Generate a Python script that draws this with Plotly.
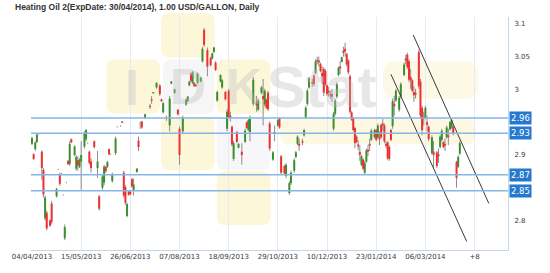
import plotly.graph_objects as go

# ---------------- data ----------------
title_text = "Heating Oil 2(ExpDate: 30/04/2014), 1.00 USD/GALLON, Daily"
tick_days = [0, 30, 60, 90, 120, 150, 180, 210, 240, 270]
tick_labels = ["04/04/2013", "15/05/2013", "26/06/2013", "07/08/2013", "18/09/2013",
               "29/10/2013", "10/12/2013", "23/01/2014", "06/03/2014", "+8"]
price_ticks = [2.8, 2.9, 3.0, 3.05, 3.1]
price_tick_labels = ["2.8", "2.9", "3", "3.05", "3.1"]
levels = [2.9565, 2.933, 2.870, 2.8455]
level_labels = ["2.96", "2.93", "2.87", "2.85"]
channel_upper_days = [232.6, 278.7]
channel_upper_vals = [3.083, 2.826]
channel_lower_days = [219.0, 265.2]
channel_lower_vals = [3.023, 2.768]

day = [0, 1, 2, 3, 4, 6, 7, 8, 9, 11,
       12, 15, 16, 17, 18, 19, 20, 21, 22, 23,
       24, 26, 27, 28, 29, 30, 32, 33, 34, 35,
       36, 38, 40, 41, 43, 44, 45, 46, 47, 48,
       49, 51, 52, 53, 54, 55, 56, 57, 58, 59,
       60, 61, 62, 64, 65, 66, 67, 69, 72, 73,
       74, 76, 78, 79, 80, 82, 84, 85, 87, 89,
       90, 92, 94, 95, 96, 97, 98, 99, 100, 101,
       103, 104, 105, 107, 109, 110, 111, 112, 113, 115,
       116, 118, 119, 120, 121, 122, 123, 125, 126, 128,
       130, 131, 132, 133, 135, 137, 138, 140, 141, 142,
       143, 144, 145, 147, 148, 150, 151, 152, 154, 155,
       157, 158, 160, 161, 162, 163, 165, 166, 167, 168,
       169, 171, 172, 173, 174, 175, 176, 177, 178, 179,
       180, 181, 182, 183, 184, 185, 186, 187, 188, 189,
       190, 191, 192, 193, 194, 195, 196, 197, 198, 199,
       200, 201, 202, 203, 204, 205, 206, 207, 209, 210,
       211, 212, 213, 214, 215, 216, 217, 218, 219, 220,
       221, 222, 224, 225, 227, 228, 229, 230, 231, 232,
       233, 234, 236, 237, 238, 239, 240, 241, 242, 244,
       245, 247, 248, 249, 250, 251, 252, 253, 254, 255,
       256, 257, 259, 260, 261]

open_ = [2.917, 2.901, 2.909, 2.920, 2.932, 2.905, 2.877, 2.803, 2.812, 2.800,
         2.826, 2.837, 2.878, 2.870, 2.872, 2.839, 2.773, 2.858, 2.891, 2.886,
         2.924, 2.900, 2.879, 2.892, 2.882, 2.890, 2.913, 2.924, 2.918, 2.905,
         2.890, 2.921, 2.880, 2.837, 2.850, 2.858, 2.882, 2.882, 2.909, 2.901,
         2.860, 2.903, 2.943, 2.933, 2.944, 2.951, 2.873, 2.851, 2.807, 2.844,
         2.844, 2.863, 2.845, 2.874, 2.922, 2.946, 2.951, 2.956, 2.975, 2.985,
         2.994, 3.003, 3.006, 2.985, 2.965, 2.956, 2.945, 3.009, 2.995, 2.969,
         2.940, 2.936, 2.977, 2.982, 3.006, 3.024, 3.010, 3.010, 3.005, 3.010,
         3.012, 3.043, 3.091, 3.060, 3.048, 3.047, 3.057, 3.041, 2.983, 3.012,
         3.003, 2.996, 2.940, 2.998, 2.960, 2.943, 2.894, 2.935, 2.911, 2.905,
         2.920, 2.950, 2.938, 2.935, 2.978, 2.980, 2.969, 2.995, 2.990, 2.977,
         2.984, 2.995, 2.948, 2.893, 2.935, 2.945, 2.956, 2.898, 2.883, 2.868,
         2.842, 2.857, 2.876, 2.897, 2.917, 2.917, 2.921, 2.930, 2.957, 2.978,
         3.003, 3.011, 3.021, 3.025, 3.045, 3.044, 3.039, 3.025, 3.031, 3.028,
         3.006, 2.998, 2.993, 2.993, 2.940, 2.963, 2.989, 3.022, 3.035, 3.042,
         3.059, 3.062, 3.054, 3.044, 3.020, 2.965, 2.956, 2.941, 2.928, 2.916,
         2.905, 2.885, 2.893, 2.873, 2.890, 2.908, 2.917, 2.923, 2.927, 2.938,
         2.927, 2.927, 2.946, 2.948, 2.945, 2.917, 2.919, 2.912, 2.938, 2.944,
         2.978, 2.983, 2.969, 2.989, 3.022, 3.047, 3.053, 3.043, 3.019, 3.014,
         2.996, 2.995, 3.057, 3.012, 2.972, 2.958, 2.957, 2.950, 2.943, 2.903,
         2.905, 2.904, 2.901, 2.912, 2.923, 2.920, 2.917, 2.927, 2.930, 2.939,
         2.942, 2.943, 2.889, 2.882, 2.902]

high = [2.928, 2.903, 2.921, 2.933, 2.933, 2.907, 2.880, 2.838, 2.815, 2.802,
        2.830, 2.850, 2.879, 2.873, 2.873, 2.840, 2.794, 2.859, 2.892, 2.921,
        2.925, 2.915, 2.900, 2.898, 2.895, 2.921, 2.936, 2.940, 2.919, 2.907,
        2.895, 2.922, 2.906, 2.839, 2.870, 2.885, 2.883, 2.891, 2.910, 2.902,
        2.873, 2.928, 2.944, 2.934, 2.945, 2.951, 2.876, 2.854, 2.827, 2.845,
        2.845, 2.865, 2.864, 2.880, 2.928, 2.951, 2.952, 2.963, 2.978, 2.990,
        2.996, 3.011, 3.008, 2.986, 2.981, 2.960, 2.990, 3.013, 3.001, 2.970,
        2.943, 2.960, 2.986, 2.990, 3.013, 3.026, 3.028, 3.011, 3.008, 3.026,
        3.019, 3.065, 3.094, 3.064, 3.050, 3.056, 3.065, 3.043, 2.998, 3.023,
        3.016, 2.998, 2.970, 3.001, 2.966, 2.945, 2.921, 2.937, 2.918, 2.918,
        2.940, 2.951, 2.955, 2.960, 3.019, 2.990, 2.986, 3.005, 3.016, 3.001,
        2.986, 2.998, 2.951, 2.906, 2.945, 2.955, 2.958, 2.900, 2.885, 2.888,
        2.860, 2.876, 2.895, 2.906, 2.930, 2.925, 2.925, 2.940, 2.975, 3.001,
        3.019, 3.016, 3.023, 3.046, 3.050, 3.050, 3.041, 3.035, 3.034, 3.031,
        3.008, 3.004, 2.998, 3.001, 2.966, 2.986, 3.011, 3.035, 3.043, 3.050,
        3.065, 3.071, 3.056, 3.046, 3.023, 2.967, 2.958, 2.943, 2.930, 2.922,
        2.915, 2.900, 2.895, 2.891, 2.910, 2.915, 2.925, 2.940, 2.940, 2.940,
        2.948, 2.936, 2.948, 2.955, 2.948, 2.921, 2.921, 2.915, 2.940, 2.986,
        2.990, 3.001, 2.990, 3.011, 3.041, 3.053, 3.056, 3.046, 3.031, 3.016,
        3.005, 3.001, 3.061, 3.016, 2.975, 2.966, 2.975, 2.960, 2.945, 2.930,
        2.921, 2.906, 2.910, 2.930, 2.940, 2.921, 2.925, 2.945, 2.940, 2.952,
        2.955, 2.945, 2.891, 2.900, 2.921]

low = [2.915, 2.892, 2.906, 2.918, 2.931, 2.862, 2.835, 2.800, 2.785, 2.790,
       2.794, 2.835, 2.877, 2.853, 2.871, 2.838, 2.770, 2.857, 2.885, 2.883,
       2.918, 2.898, 2.876, 2.876, 2.880, 2.847, 2.910, 2.921, 2.917, 2.885,
       2.873, 2.910, 2.865, 2.815, 2.847, 2.854, 2.873, 2.880, 2.900, 2.900,
       2.858, 2.900, 2.942, 2.932, 2.943, 2.949, 2.835, 2.824, 2.805, 2.838,
       2.839, 2.850, 2.838, 2.873, 2.906, 2.940, 2.940, 2.955, 2.970, 2.978,
       2.994, 3.001, 2.990, 2.981, 2.963, 2.952, 2.936, 3.008, 2.993, 2.960,
       2.885, 2.933, 2.975, 2.981, 3.005, 3.011, 3.008, 3.004, 3.004, 3.008,
       3.011, 3.041, 3.065, 3.020, 3.035, 3.046, 3.056, 3.028, 2.981, 3.011,
       3.001, 2.983, 2.936, 2.955, 2.951, 2.913, 2.891, 2.918, 2.910, 2.885,
       2.918, 2.940, 2.936, 2.921, 2.975, 2.966, 2.967, 2.993, 2.945, 2.974,
       2.970, 2.967, 2.906, 2.891, 2.921, 2.943, 2.940, 2.870, 2.870, 2.865,
       2.839, 2.854, 2.873, 2.895, 2.915, 2.906, 2.915, 2.928, 2.955, 2.975,
       3.001, 3.004, 3.005, 3.023, 3.038, 3.035, 3.026, 3.008, 2.990, 3.005,
       2.990, 2.989, 2.986, 2.981, 2.937, 2.960, 2.986, 3.020, 3.023, 3.041,
       3.050, 3.050, 3.035, 3.023, 2.963, 2.952, 2.936, 2.910, 2.918, 2.907,
       2.891, 2.883, 2.877, 2.870, 2.888, 2.898, 2.906, 2.921, 2.925, 2.921,
       2.925, 2.915, 2.925, 2.937, 2.918, 2.910, 2.892, 2.891, 2.921, 2.940,
       2.960, 2.981, 2.966, 2.986, 3.020, 3.038, 3.031, 3.011, 3.001, 2.996,
       2.981, 2.986, 3.001, 2.955, 2.930, 2.945, 2.955, 2.936, 2.921, 2.900,
       2.880, 2.880, 2.888, 2.910, 2.921, 2.910, 2.906, 2.925, 2.915, 2.937,
       2.940, 2.930, 2.850, 2.880, 2.900]

close = [2.926, 2.894, 2.919, 2.931, 2.932, 2.880, 2.840, 2.835, 2.788, 2.792,
         2.798, 2.848, 2.878, 2.856, 2.872, 2.839, 2.790, 2.858, 2.886, 2.917,
         2.919, 2.913, 2.897, 2.884, 2.893, 2.900, 2.933, 2.938, 2.918, 2.888,
         2.880, 2.912, 2.890, 2.818, 2.867, 2.882, 2.875, 2.889, 2.901, 2.901,
         2.871, 2.925, 2.943, 2.933, 2.944, 2.949, 2.838, 2.827, 2.825, 2.839,
         2.840, 2.852, 2.855, 2.879, 2.912, 2.946, 2.942, 2.962, 2.973, 2.983,
         2.996, 3.010, 2.993, 2.982, 2.979, 2.956, 2.986, 3.012, 3.000, 2.962,
         2.900, 2.957, 2.984, 2.989, 3.012, 3.013, 3.026, 3.005, 3.007, 3.024,
         3.018, 3.062, 3.068, 3.035, 3.037, 3.055, 3.064, 3.030, 2.996, 3.022,
         3.014, 2.985, 2.966, 2.958, 2.957, 2.916, 2.918, 2.920, 2.917, 2.900,
         2.937, 2.941, 2.953, 2.955, 3.015, 2.976, 2.983, 3.003, 2.985, 2.998,
         2.972, 2.970, 2.910, 2.904, 2.932, 2.953, 2.942, 2.873, 2.872, 2.885,
         2.857, 2.873, 2.892, 2.904, 2.928, 2.914, 2.919, 2.938, 2.972, 2.998,
         3.017, 3.009, 3.008, 3.043, 3.043, 3.041, 3.028, 3.020, 2.995, 3.008,
         2.993, 2.995, 2.991, 2.989, 2.963, 2.983, 3.008, 3.033, 3.032, 3.049,
         3.056, 3.058, 3.038, 3.026, 2.966, 2.954, 2.938, 2.918, 2.920, 2.913,
         2.900, 2.898, 2.879, 2.888, 2.907, 2.905, 2.914, 2.937, 2.938, 2.923,
         2.945, 2.924, 2.927, 2.945, 2.921, 2.914, 2.895, 2.894, 2.923, 2.982,
         2.974, 2.998, 2.987, 3.008, 3.038, 3.044, 3.034, 3.015, 3.014, 2.998,
         2.991, 2.992, 3.005, 2.960, 2.938, 2.955, 2.972, 2.946, 2.924, 2.927,
         2.900, 2.883, 2.898, 2.928, 2.937, 2.912, 2.914, 2.942, 2.927, 2.950,
         2.953, 2.932, 2.865, 2.897, 2.918]

assert len(day) == len(open_) == len(high) == len(low) == len(close)

# ---------------- styling ----------------
GREEN = "#3d8f2c"
RED = "#f22f2f"
WICK = "#8c8c8c"
LEVEL_LINE = "#86b6e6"
LEVEL_BOX = "#2479cf"
GRID = "#e3ecf5"
AXIS_LINE = "#c4d6ea"
TXT = "#3a3a3a"

PLOT_L, PLOT_T, PLOT_W, PLOT_H = 20, 17, 488, 236
FIG_W, FIG_H = 550, 273


def px(x):
    return (x - PLOT_L) / PLOT_W


def py(y):
    return (PLOT_T + PLOT_H - y) / PLOT_H


def rrect(x0, y0, x1, y1, r, color):
    X0, X1 = px(x0), px(x1)
    Y0, Y1 = py(y1), py(y0)
    rx, ry = r / PLOT_W, r / PLOT_H
    path = (f"M {X0+rx},{Y0} L {X1-rx},{Y0} Q {X1},{Y0} {X1},{Y0+ry} "
            f"L {X1},{Y1-ry} Q {X1},{Y1} {X1-rx},{Y1} L {X0+rx},{Y1} "
            f"Q {X0},{Y1} {X0},{Y1-ry} L {X0},{Y0+ry} Q {X0},{Y0} {X0+rx},{Y0} Z")
    return dict(type="path", xref="paper", yref="paper", path=path,
                fillcolor=color, line=dict(width=0), layer="below")


# build candle segments
wick_x, wick_y = [], []
up_x, up_y, dn_x, dn_y = [], [], [], []
for d, o, h, l, c in zip(day, open_, high, low, close):
    wick_x += [d, d, None]
    wick_y += [l, h, None]
    if c > o:
        up_x += [d, d, None]
        up_y += [o, c, None]
    elif c < o:
        dn_x += [d, d, None]
        dn_y += [o, c, None]

fig = go.Figure()
fig.add_trace(go.Scatter(x=wick_x, y=wick_y, mode="lines",
                         line=dict(color=WICK, width=1), hoverinfo="skip"))
fig.add_trace(go.Scatter(x=up_x, y=up_y, mode="lines",
                         line=dict(color=GREEN, width=2), hoverinfo="skip"))
fig.add_trace(go.Scatter(x=dn_x, y=dn_y, mode="lines",
                         line=dict(color=RED, width=2), hoverinfo="skip"))
fig.add_trace(go.Scatter(x=channel_upper_days, y=channel_upper_vals, mode="lines",
                         line=dict(color="#3a3a3a", width=1), hoverinfo="skip"))
fig.add_trace(go.Scatter(x=channel_lower_days, y=channel_lower_vals, mode="lines",
                         line=dict(color="#3a3a3a", width=1), hoverinfo="skip"))

shapes = [
    # watermark tiles
    rrect(153, 13, 208, 58, 9, "#fdf7da"),
    rrect(97, 60, 152, 115, 9, "#fdf7da"),
    rrect(155, 60, 208, 115, 9, "#f6f6f6"),
    rrect(210, 60, 265, 115, 9, "#fdf7da"),
    rrect(153, 118, 208, 172, 9, "#fdf7da"),
    rrect(210, 118, 265, 172, 9, "#f7f7f9"),
    rrect(210, 173, 265, 228, 9, "#fdf7da"),
    rrect(380, 62, 478, 100, 14, "#fdf9e6"),
    rrect(275, 120, 475, 146, 10, "#fdf8e2"),
]
for lv in levels:
    shapes.append(dict(type="line", xref="paper", x0=0, x1=1, yref="y", y0=lv, y1=lv,
                       line=dict(color=LEVEL_LINE, width=1.5)))

annotations = [
    dict(text="<b>" + title_text + "</b>", xref="paper", yref="paper", x=px(2), y=py(7),
         xanchor="left", yanchor="middle", showarrow=False,
         font=dict(family="Liberation Sans, Arial", size=8.5, color="#333333"),
         ),
]
for t, (cx, cy, fs) in zip(["I", "D", "K", "Stat"],
                           [(123, 89, 50), (181, 88, 50), (238, 88, 50), (318, 87, 58)]):
    annotations.append(dict(text=f"<b>{t}</b>", xref="paper", yref="paper", x=px(cx), y=py(cy),
                            xanchor="center", yanchor="middle", showarrow=False,
                            font=dict(family="Liberation Sans, Arial", size=fs,
                                      color="rgba(185,185,185,0.35)")))
for lv, lab in zip(levels, level_labels):
    annotations.append(dict(text=lab, xref="paper", yref="y", x=1, y=lv, xshift=1,
                            xanchor="left", yanchor="middle", showarrow=False,
                            bgcolor=LEVEL_BOX, borderpad=1,
                            font=dict(family="DejaVu Sans", size=8.5, color="white")))

fig.update_layout(
    width=FIG_W, height=FIG_H,
    margin=dict(l=PLOT_L, r=FIG_W - PLOT_L - PLOT_W, t=PLOT_T, b=FIG_H - PLOT_T - PLOT_H),
    paper_bgcolor="white", plot_bgcolor="rgba(0,0,0,0)",
    showlegend=False,
    shapes=shapes,
    annotations=annotations,
    xaxis=dict(range=[-0.6, 290.4], tickvals=tick_days, ticktext=tick_labels,
               showgrid=True, gridcolor=GRID, gridwidth=1, zeroline=False,
               showline=True, linecolor=AXIS_LINE, linewidth=1, ticks="",
               tickfont=dict(family="DejaVu Sans", size=7, color=TXT)),
    yaxis=dict(range=[2.755, 3.1105], side="right", tickvals=price_ticks,
               ticktext=price_tick_labels, showgrid=False, zeroline=False,
               showline=True, linecolor=AXIS_LINE, linewidth=1, ticks="",
               ticklabelstandoff=4,
               tickfont=dict(family="DejaVu Sans", size=7, color=TXT)),
)

fig.write_html("out.html")
